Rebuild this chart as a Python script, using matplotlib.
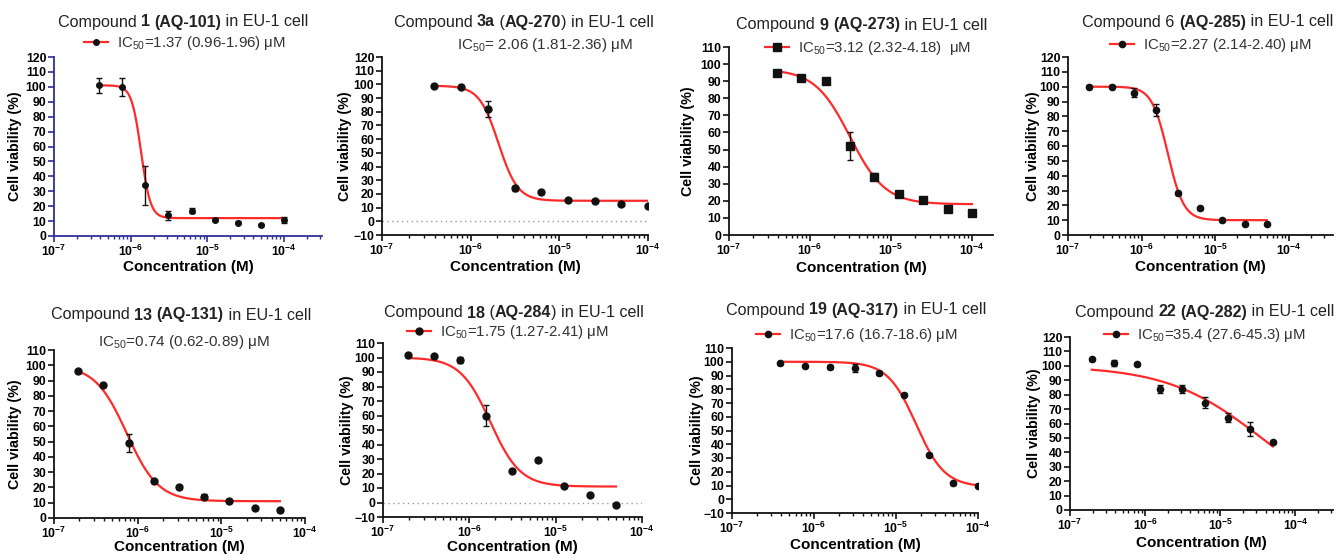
import numpy as np
import matplotlib
matplotlib.use('Agg')
import matplotlib.pyplot as plt
from matplotlib.lines import Line2D
from matplotlib.offsetbox import TextArea, HPacker, AnnotationBbox
from matplotlib.ticker import LogLocator, MultipleLocator, FuncFormatter, NullFormatter

plt.rcParams['font.family'] = ['Liberation Sans', 'DejaVu Sans']
plt.rcParams['mathtext.fontset'] = 'custom'
plt.rcParams['mathtext.rm'] = 'Liberation Sans'
plt.rcParams['mathtext.it'] = 'Liberation Sans:italic'
plt.rcParams['mathtext.bf'] = 'Liberation Sans:bold'

# ---------------- data ----------------
conc_a_uM = [0.39, 0.78, 1.56, 3.125, 6.25, 12.5, 25, 50, 100]
conc_b_uM = [0.195, 0.39, 0.78, 1.56, 3.125, 6.25, 12.5, 25, 50]

# titles: (text, bold?) pieces
title_parts = [
    [("Compound ", 0), ("1", 1), (" ", 0), ("(AQ-101)", 1), (" in EU-1 cell", 0)],
    [("Compound ", 0), ("3a", 1), (" (", 0), ("AQ-270", 1), (") in EU-1 cell", 0)],
    [("Compound ", 0), ("9", 1), (" ", 0), ("(AQ-273)", 1), (" in EU-1 cell", 0)],
    [("Compound 6 ", 0), ("(AQ-285)", 1), (" in EU-1 cell", 0)],
    [("Compound ", 0), ("13", 1), (" ", 0), ("(AQ-131)", 1), (" in EU-1 cell", 0)],
    [("Compound ", 0), ("18", 1), (" (", 0), ("AQ-284", 1), (") in EU-1 cell", 0)],
    [("Compound ", 0), ("19", 1), (" ", 0), ("(AQ-317)", 1), (" in EU-1 cell", 0)],
    [("Compound ", 0), ("22", 1), (" ", 0), ("(AQ-282)", 1), (" in EU-1 cell", 0)],
]
ic50_labels = ["IC$_{50}$=1.37 (0.96-1.96) μM",
               "IC$_{50}$= 2.06 (1.81-2.36) μM",
               "IC$_{50}$=3.12 (2.32-4.18)  μM",
               "IC$_{50}$=2.27 (2.14-2.40) μM",
               "IC$_{50}$=0.74 (0.62-0.89) μM",
               "IC$_{50}$=1.75 (1.27-2.41) μM",
               "IC$_{50}$=17.6 (16.7-18.6) μM",
               "IC$_{50}$=35.4 (27.6-45.3) μM"]

viab_1 = [101, 100, 34, 14, 17, 11, 9, 7.5, 11]
err_1 = [5, 6, 13, 3, 1.5, 1, 1, 0.5, 2]
viab_3a = [99, 98, 82, 24, 21.5, 15.5, 15, 12.5, 11]
err_3a = [1, 1.5, 6, 1.5, 1.5, 1, 1, 1, 1]
viab_9 = [95, 92, 90, 52, 34, 24, 20.5, 15.5, 13]
err_9 = [1.5, 1.5, 1.5, 8, 2, 2, 1.5, 1.5, 1.5]
viab_6 = [100, 100, 96, 84, 28, 18, 10, 7.5, 7.5]
err_6 = [1, 1, 3, 4, 1, 1, 1, 0.5, 0.5]
viab_13 = [96, 87, 49, 24, 20, 14, 11, 6.5, 5]
err_13 = [1, 1, 6, 1, 1, 1.5, 1.5, 1, 1]
viab_18 = [101.5, 101, 98.5, 60, 22, 29, 11.5, 5.5, -1.5]
err_18 = [1, 1, 2, 7, 1, 1, 1, 1, 1]
viab_19 = [99, 97, 96, 95.5, 92, 76, 32.5, 11.5, 10]
err_19 = [1, 1, 1.5, 3, 1.5, 1, 1, 1, 1]
viab_22 = [104.5, 102, 101, 84, 84, 74.5, 64, 56, 47]
err_22 = [1, 2, 1, 3, 3, 4, 3, 5, 1]

# four-parameter logistic fit parameters (top, bottom, IC50 in uM, Hill slope)
fit_top = [101, 99, 97, 100, 100, 100, 100, 100]
fit_bottom = [12, 15, 18, 10, 11, 11, 9, 0]
fit_ic50_uM = [1.37, 2.06, 3.12, 2.27, 0.74, 1.75, 17.6, 35.4]
fit_hill = [7, 4, 2, 4, 2.3, 2.5, 2.5, 0.69]

panel_conc = [conc_a_uM, conc_a_uM, conc_a_uM, conc_b_uM, conc_b_uM, conc_b_uM, conc_a_uM, conc_b_uM]
panel_viab = [viab_1, viab_3a, viab_9, viab_6, viab_13, viab_18, viab_19, viab_22]
panel_err = [err_1, err_3a, err_9, err_6, err_13, err_18, err_19, err_22]

# ---------------- layout / style ----------------
W, H = 1343, 557
# (left px, right px, top px, bottom px, log10 xmax, ymin, ymax)
boxes = [(54, 322, 57, 236, -3.5, 0, 120),
         (382, 648, 57, 235, -4.0, -10, 120),
         (729, 993, 47, 235, -3.74, 0, 110),
         (1068, 1333, 57, 235, -3.4, 0, 120),
         (54, 305, 350, 518, -4.0, 0, 110),
         (383, 642, 343, 517, -4.0, -10, 110),
         (732, 978, 348, 513, -4.0, -10, 110),
         (1070, 1333, 337, 510, -3.5, 0, 120)]
title_pos = [(183, 22), (524, 22), (862, 25), (1208, 22), (181, 315), (514, 313), (856, 310), (1205, 312)]
legend_pos = [(185, 43), (545, 45), (868, 48), (1211, 45), (184, 342), (508, 332), (857, 335), (1205, 335)]
xlabel_y = [267, 267, 268, 267, 547, 547, 545, 543]
ylabel_x = [15, 345, 688, 1033, 15, 347, 697, 1034]
legend_style = ['legend', 'text', 'legend', 'legend', 'text', 'legend', 'legend', 'legend']
markers = ['o', 'o', 's', 'o', 'o', 'o', 'o', 'o']
marker_sizes = [4, 5, 5.5, 4.5, 5, 5, 4.5, 4.5]
zero_line = [False, True, False, False, False, True, False, False]
spine_colors = ['#2e2e96'] + ['#111111'] * 7
RED = '#ff2a2a'

fig = plt.figure(figsize=(W / 100, H / 100), dpi=100)


def fmt_pow(v, pos):
    e = int(round(np.log10(v)))
    return r'$\mathbf{10^{%d}}$' % e


for i in range(8):
    L, R, T, B, xmax_e, ymin, ymax = boxes[i]
    ax = fig.add_axes([L / W, 1 - B / H, (R - L) / W, (B - T) / H])
    conc_M = np.array(panel_conc[i]) * 1e-6
    viab = np.array(panel_viab[i])
    err = np.array(panel_err[i])

    xs = np.logspace(np.log10(conc_M[0]), np.log10(conc_M[-1]), 300)
    ic50 = fit_ic50_uM[i] * 1e-6
    ys = fit_bottom[i] + (fit_top[i] - fit_bottom[i]) / (1 + (xs / ic50) ** fit_hill[i])
    ax.plot(xs, ys, color=RED, lw=1.6, zorder=2)
    ax.errorbar(conc_M, viab, yerr=err, fmt=markers[i], color='#111111', ms=marker_sizes[i],
                capsize=2.5, elinewidth=1, capthick=1, zorder=3)
    if zero_line[i]:
        ax.axhline(0, color='#999999', lw=1, ls=(0, (1, 2.5)), zorder=1)

    ax.set_xscale('log')
    ax.set_xlim(1e-7, 10 ** xmax_e)
    ax.set_ylim(ymin, ymax)
    ax.xaxis.set_major_locator(LogLocator(base=10, numticks=10))
    ax.xaxis.set_minor_locator(LogLocator(base=10, subs=np.arange(2, 10), numticks=20))
    ax.xaxis.set_major_formatter(FuncFormatter(fmt_pow))
    ax.xaxis.set_minor_formatter(NullFormatter())
    ax.yaxis.set_major_locator(MultipleLocator(10))
    for s in ['top', 'right']:
        ax.spines[s].set_visible(False)
    sc = spine_colors[i]
    for s in ['left', 'bottom']:
        ax.spines[s].set_color(sc)
        ax.spines[s].set_linewidth(1.3)
    ax.tick_params(axis='both', which='major', direction='out', length=4, width=1.2, color=sc,
                   labelsize=8.8, pad=1.5)
    ax.tick_params(axis='x', which='minor', direction='out', length=2.5, width=1, color=sc)
    for lab in ax.get_yticklabels():
        lab.set_fontweight('bold')
    ax.set_ylabel('Cell viability (%)', fontsize=10.3, fontweight='bold', va='center')
    ax.set_xlabel('Concentration (M)', fontsize=11, fontweight='bold', va='center')
    ax.xaxis.set_label_coords(0.5, -(xlabel_y[i] - B) / (B - T))
    ax.yaxis.set_label_coords(-(L - ylabel_x[i]) / (R - L), 0.5)
    ax.patch.set_alpha(0)

    # title with mixed weights
    areas = [TextArea(t, textprops=dict(fontsize=11.6, fontweight='bold' if b else 'normal',
                                        color='#222222'))
             for t, b in title_parts[i]]
    pack = HPacker(children=areas, pad=0, sep=0, align='baseline')
    tx, ty = title_pos[i]
    ab = AnnotationBbox(pack, (tx / W, 1 - ty / H), xycoords='figure fraction', frameon=False,
                        box_alignment=(0.5, 0.5), pad=0)
    fig.add_artist(ab)

    lx, ly = legend_pos[i]
    if legend_style[i] == 'text':
        fig.text(lx / W, 1 - ly / H, ic50_labels[i], fontsize=11, color='#333333',
                 ha='center', va='center')
    else:
        h = Line2D([], [], color=RED, lw=1.6, marker=markers[i], mfc='#111111', mec='#111111',
                   ms=marker_sizes[i])
        fig.legend([h], [ic50_labels[i]], loc='center', bbox_to_anchor=(lx / W, 1 - ly / H),
                   frameon=False, fontsize=10.8, handlelength=1.6, handletextpad=0.6,
                   borderpad=0, borderaxespad=0, labelcolor='#333333')

fig.savefig('out.png', dpi=100)
